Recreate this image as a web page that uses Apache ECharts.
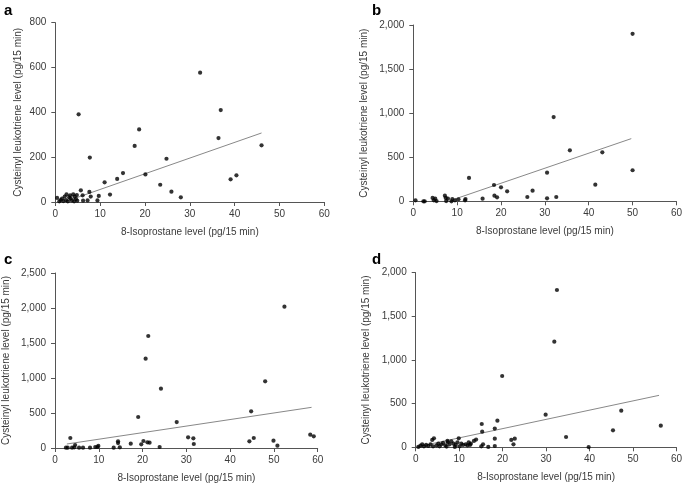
<!DOCTYPE html>
<html><head><meta charset="utf-8">
<script src="https://cdn.jsdelivr.net/npm/echarts@6/dist/echarts.min.js"></script>
<style>html,body{margin:0;padding:0;background:#fff}#c{width:685px;height:485px}</style>
</head><body><div id="c"></div>
<script>
// Panel labels
var panelLabels = ['a', 'b', 'c', 'd'];
var xTitle = '8-Isoprostane level (pg/15 min)';
var yTitle = 'Cysteinyl leukotriene level (pg/15 min)';
var yMax = [800, 2000, 2500, 2000];
var yInterval = [200, 500, 500, 500];

// Panel a points [isoprostane, leukotriene]
var pointsA = [[32.3,577],[36.9,410],[5.2,391],[18.7,324],[36.4,285],[17.7,250],[46.0,253],[7.7,198],[24.8,193],[15.1,129],[20.1,123],[40.4,119],[39.1,101],[13.8,103],[11.0,88],[23.4,77],[25.9,46],[28.0,21],[12.2,33],[5.7,52],[7.6,45],[6.1,30],[7.9,24],[9.7,27],[9.4,7],[6.2,6],[7.2,7],[0.4,18],[1.2,9],[1.8,4],[2.5,34],[2.4,9],[3.1,21],[3.7,7],[4.0,34],[4.3,24],[4.6,13],[4.8,31],[3.4,16],[0.9,3],[1.5,15],[2.8,3],[4.2,3],[4.9,6],[2.1,24],[3.3,30]];
var fitA = [[2,0],[46,308]];

// Panel b
var pointsB = [[50.0,1900],[32.0,955],[35.7,578],[43.1,556],[50.0,352],[30.5,325],[12.7,265],[41.5,189],[18.4,185],[20.0,159],[21.4,113],[27.2,121],[18.5,64],[19.1,45],[26.0,49],[32.6,49],[30.5,34],[15.8,30],[11.9,26],[11.8,11],[10.3,23],[9.5,11],[8.9,26],[8.7,0],[7.9,30],[7.2,64],[7.4,38],[7.5,2],[5.0,30],[4.4,38],[5.3,2],[4.7,11],[2.3,0],[2.6,0],[0.5,11]];
var fitB = [[9.5,26],[49.7,711]];

// Panel c
var pointsC = [[52.4,2019],[21.3,1600],[20.7,1276],[24.2,848],[48.0,952],[44.8,524],[19.0,443],[27.8,371],[58.3,190],[59.1,167],[30.4,152],[31.6,138],[31.7,57],[45.4,143],[44.4,95],[49.9,105],[50.8,33],[3.5,143],[20.2,100],[21.1,81],[21.6,76],[19.7,52],[17.3,62],[14.4,95],[14.4,71],[14.8,10],[13.4,5],[23.9,14],[9.9,29],[9.7,14],[9.2,14],[8.0,5],[6.4,5],[5.5,5],[4.6,43],[4.4,10],[3.9,5],[2.9,5],[2.5,5]];
var fitC = [[2.7,57],[58.6,581]];

// Panel d
var pointsD = [[32.5,1802],[31.9,1210],[19.9,817],[47.3,420],[29.9,374],[56.4,248],[45.4,195],[34.6,118],[39.8,3],[15.2,267],[18.8,305],[15.3,179],[18.2,214],[18.2,99],[18.2,15],[22.0,84],[22.8,99],[22.5,34],[15.5,34],[15.1,11],[16.7,4],[13.9,88],[13.4,73],[9.9,103],[8.2,69],[4.2,103],[3.8,84],[0.6,4],[1.1,19],[1.5,34],[1.9,11],[2.4,27],[2.9,15],[3.4,34],[4.0,11],[4.8,23],[5.2,42],[5.9,34],[6.3,50],[6.8,23],[7.1,8],[7.4,57],[7.8,34],[8.7,42],[9.2,27],[9.6,57],[10.1,11],[10.5,42],[10.9,27],[11.5,34],[11.9,23],[12.5,27],[12.7,42],[5.5,11],[7.3,73],[9.0,4],[12.2,57]];
var fitD = [[0.2,4],[56.0,595]];

var points = [pointsA, pointsB, pointsC, pointsD];
var fits = [fitA, fitB, fitC, fitD];

var grids = [
  {left:55.3, top:22.7, width:269, height:179.3},
  {left:413.3, top:25, width:266.7, height:176.3},
  {left:54, top:273, width:263.7, height:175},
  {left:415.7, top:272.7, width:263.6, height:174.6}
];
var yNameGap = [32, 44, 44, 44];
var letterPos = [[4,3],[372,3],[4,252],[372,252]];

function fmt(v){ return String(v).replace(/\B(?=(\d{3})+(?!\d))/g, ','); }

var axisCol = '#555', txtCol = '#3a3a3a', FF = 'Liberation Sans, Arial, sans-serif';
var option = {
  animation:false,
  backgroundColor:'#fff',
  title: panelLabels.map(function(t,i){ return {text:t, left:letterPos[i][0], top:letterPos[i][1], padding:0,
    textStyle:{fontSize:15, fontWeight:'bold', color:'#000', fontFamily:FF}}; }),
  grid: grids,
  xAxis: grids.map(function(g,i){ return {type:'value', gridIndex:i, min:0, max:60, interval:10,
    name:xTitle, nameLocation:'middle', nameGap:25,
    nameTextStyle:{fontSize:10, color:txtCol, fontFamily:FF},
    axisLine:{show:true, lineStyle:{color:axisCol, width:1}},
    axisTick:{show:true, length:4, lineStyle:{color:axisCol}},
    axisLabel:{fontSize:10, color:txtCol, fontFamily:FF, margin:7},
    splitLine:{show:false}}; }),
  yAxis: grids.map(function(g,i){ return {type:'value', gridIndex:i, min:0, max:yMax[i], interval:yInterval[i],
    name:yTitle, nameLocation:'middle', nameGap:yNameGap[i],
    nameTextStyle:{fontSize:10, color:txtCol, fontFamily:FF},
    axisLine:{show:true, lineStyle:{color:axisCol, width:1}},
    axisTick:{show:true, length:4, lineStyle:{color:axisCol}},
    axisLabel:{fontSize:10, color:txtCol, fontFamily:FF, margin:9, formatter:fmt},
    splitLine:{show:false}}; }),
  series: []
};
for (var i=0;i<4;i++){
  option.series.push({type:'line', xAxisIndex:i, yAxisIndex:i, data:fits[i], symbol:'none',
    lineStyle:{color:'#888', width:1}, z:1});
  option.series.push({type:'scatter', xAxisIndex:i, yAxisIndex:i, data:points[i], symbolSize:4.2,
    itemStyle:{color:'#000'}, z:2});
}
var chart = echarts.init(document.getElementById('c'), null, {renderer:'canvas'});
chart.setOption(option);
</script></body></html>
